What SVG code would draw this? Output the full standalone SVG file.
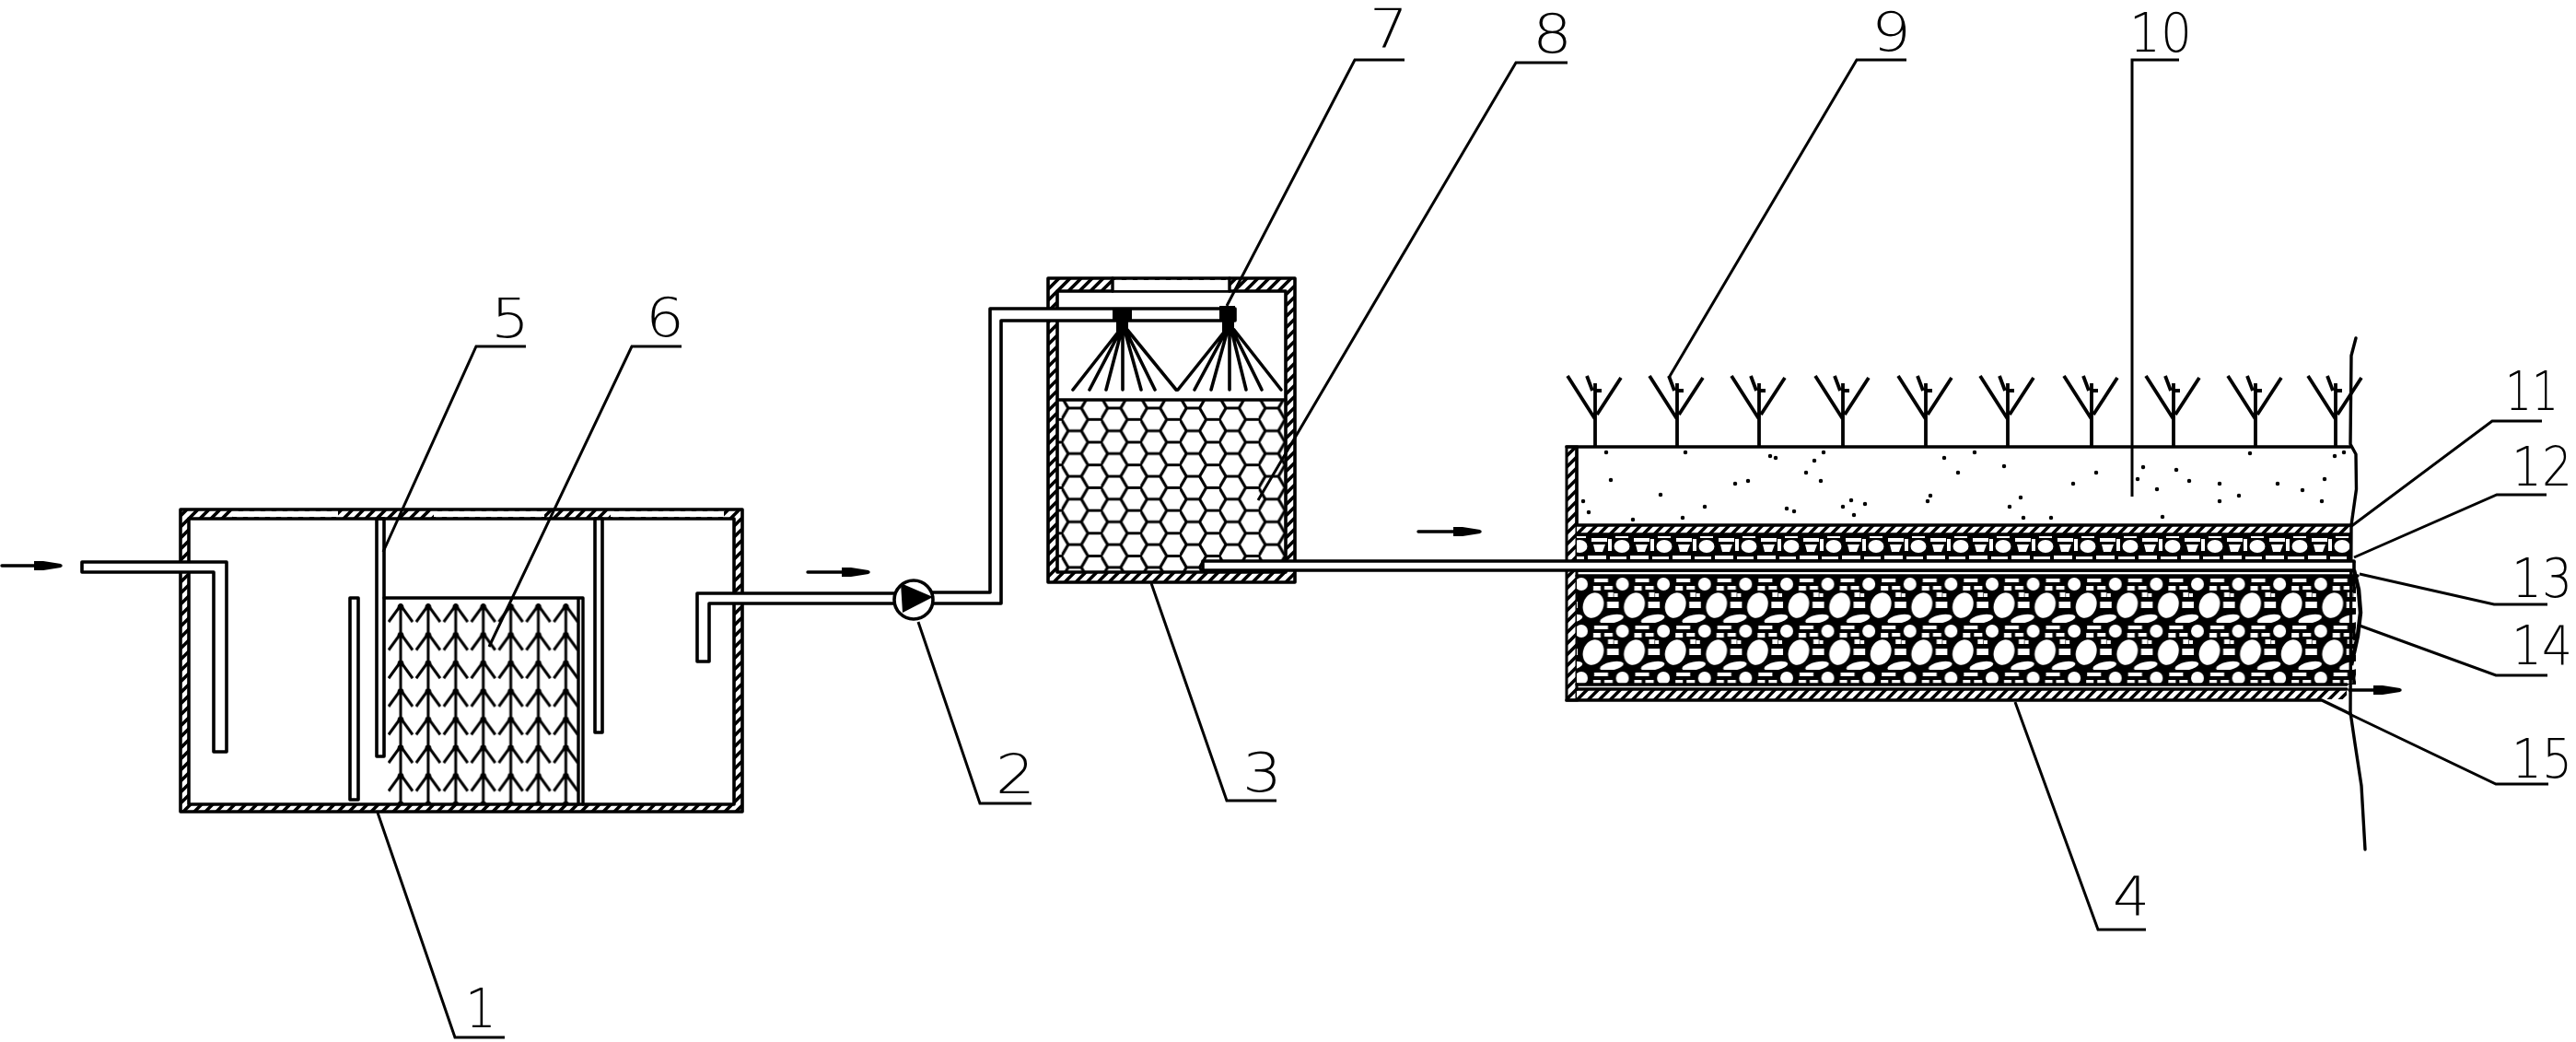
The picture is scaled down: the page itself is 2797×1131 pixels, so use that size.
<svg xmlns="http://www.w3.org/2000/svg" width="2797" height="1131" viewBox="0 0 2797 1131">
<style>
.l{fill:none;stroke:#000;stroke-width:3.4;stroke-linejoin:round;stroke-linecap:round}
.w{fill:#fff;stroke:#000;stroke-width:3.6;stroke-linejoin:round}
.b{fill:#000}
.n{font-family:"DejaVu Sans","Liberation Sans",sans-serif;font-size:59px;font-weight:200;fill:#000}
.lead{fill:none;stroke:#000;stroke-width:3}
.p{fill:none;stroke:#000;stroke-width:3.6;stroke-linecap:round}
</style>
<defs>
<pattern id="hatch" patternUnits="userSpaceOnUse" width="12" height="12"><rect width="12" height="12" fill="#fff"/><path d="M-2 14L14 -2M-2 2L2 -2M10 14L14 10" stroke="#000" stroke-width="3.6" fill="none"/></pattern>
<pattern id="hex" patternUnits="userSpaceOnUse" x="1152.7" y="467.65" width="42.8" height="24.7"><path d="M0 12.35L7.13 0H21.4L28.53 12.35H42.8M28.53 12.35L21.4 24.7H7.13L0 12.35" fill="none" stroke="#000" stroke-width="3.2"/></pattern>
<pattern id="chev" patternUnits="userSpaceOnUse" x="420" y="655" width="29.9" height="30.6"><path d="M15 0V30.6M2 20L15 2L28 20" fill="none" stroke="#000" stroke-width="3"/><circle cx="15" cy="4" r="3.4"/></pattern>
<pattern id="g12" patternUnits="userSpaceOnUse" x="1700" y="580" width="46" height="30"><rect width="46" height="30" fill="#000"/><g fill="#fff"><ellipse cx="15" cy="13" rx="8.5" ry="7"/><path d="M28 4H45V8H28ZM30 11H43L40 19H32ZM2 24H20V27H2ZM24 23H44V27H24ZM0 5H4V18H0ZM8 2H22V4H8Z"/></g></pattern>
<pattern id="g14" patternUnits="userSpaceOnUse" x="1708" y="625" width="44.6" height="51"><rect width="44.6" height="51" fill="#000"/><g fill="#fff"><ellipse cx="22" cy="32" rx="11" ry="14" transform="rotate(20 22 32)"/><ellipse cx="42" cy="47" rx="13" ry="4.5" transform="rotate(-12 42 47)"/><ellipse cx="-2.6" cy="47" rx="13" ry="4.5" transform="rotate(-12 -2.6 47)"/><rect x="37" y="28" width="8" height="7"/><rect x="0" y="28" width="5" height="7"/><circle cx="9" cy="9" r="7"/><path d="M23 3H38V7H23ZM22 11H30V16H22ZM34 11H43V15H34ZM38 18H44V23H38ZM0 19H4V23H0Z"/></g></pattern>
<g id="plant"><path d="M0 2V-66M0 -27L-30 -74M2 -32L28 -72M-9 -74L-3 -58M0 -58H7" fill="none" stroke="#000" stroke-width="3.8"/></g>
<marker id="ah" markerUnits="userSpaceOnUse" markerWidth="30" markerHeight="16" viewBox="0 0 30 16" refX="29" refY="8" orient="auto"><path d="M0 3H10L29 6V10L10 13H0Z"/></marker>
</defs>
<rect width="2797" height="1131" fill="#fff"/>

<g id="node-1-tank">
<rect class="w" x="196" y="553" width="610" height="328" style="fill:url(#hatch)"/>
<rect class="w" x="205" y="563" width="592" height="310"/>
<path d="M253 555H367V561H253ZM471 555H591V561H471ZM663 555H786V561H663Z" fill="#fff"/>
<rect class="w" x="380" y="649" width="9" height="219"/>
<rect class="w" x="646" y="563" width="8" height="232"/>
</g>
<g id="node-6-media">
<rect x="421" y="655" width="207" height="218" fill="url(#chev)"/>
<path class="l" d="M417 649H633V873M628 649V873"/>
</g>
<g id="node-5-baffle"><rect class="w" x="409" y="563" width="8" height="258" style="fill:none"/></g>

<g id="node-3-tank">
<rect class="w" x="1138" y="302" width="268" height="330" style="fill:url(#hatch)"/>
<rect class="w" x="1148" y="316" width="248" height="305"/>
<rect x="1208" y="304" width="126" height="11" fill="#fff"/>
<path class="l" d="M1208 302V316M1335 302V316"/>
</g>
<g id="node-8-media">
<rect x="1149" y="435" width="246" height="185" fill="url(#hex)"/>
<path class="l" d="M1148 434H1396"/>
</g>

<g id="node-4-wetland">
<rect x="1701" y="485" width="11" height="275" fill="url(#hatch)" stroke="#000" stroke-width="3"/>
<rect x="1712" y="570" width="840" height="10" fill="url(#hatch)"/>
<rect x="1712" y="580" width="840" height="30" fill="url(#g12)"/>
<rect x="1712" y="625" width="846" height="118" fill="url(#g14)"/>
<rect x="1712" y="748" width="836" height="11" fill="url(#hatch)"/>
<path class="l" d="M1701 485H2552M1712 485V570M1712 570H2552M1712 580H2552M1712 610H2556M1712 619H2556M1712 625H2560M1712 743H2548M1712 748H2548M1701 760H2521L2552 775"/>
</g>
<g id="node-9-plants">
<use href="#plant" x="1732" y="482"/><use href="#plant" x="1821" y="482"/><use href="#plant" x="1910" y="482"/><use href="#plant" x="2001" y="482"/><use href="#plant" x="2091" y="482"/><use href="#plant" x="2180" y="482"/><use href="#plant" x="2271" y="482"/><use href="#plant" x="2360" y="482"/><use href="#plant" x="2449" y="482"/><use href="#plant" x="2536" y="482"/>
</g>
<g id="node-10-soil">
<path fill="none" stroke="#000" stroke-width="4.5" stroke-linecap="round" d="M1744 491h0M1830 491h0M1922 495h0M1928 497h0M1980 491h0M1970 500h0M1961 513h0M1749 521h0M1898 522h0M1884 525h0M1977 522h0M1803 537h0M1719 544h0M1725 556h0M1851 550h0M1827 562h0M1773 564h0M1940 552h0M1948 555h0M2010 543h0M2001 550h0M2025 547h0M2013 559h0M2111 497h0M2144 491h0M2176 506h0M2126 513h0M2096 538h0M2093 544h0M2194 540h0M2182 550h0M2197 562h0M2227 562h0M2276 513h0M2251 525h0M2327 507h0M2363 510h0M2321 520h0M2377 522h0M2342 531h0M2410 525h0M2473 525h0M2500 532h0M2524 520h0M2431 538h0M2410 544h0M2521 544h0M2348 561h0M2443 492h0M2535 495h0M2545 491h0"/>
<path class="l" d="M2558 367L2553 386L2552 482L2558 493L2558.5 531L2553 570L2552 773L2557 807L2564 853L2568 922"/>
<path fill="none" stroke="#000" stroke-width="4.5" d="M2556 619L2561 640L2563 665L2560 690L2553 722"/>
</g>

<g id="connectors">
<path class="w" d="M89 610H246V816H232V621H89Z"/>
<path class="w" d="M972 644H757V718H770V655H972Z"/>
<path class="w" d="M1012 643H1075V335H1341V348H1087V655H1012Z"/>
<path class="w" d="M1306 609H2556V619H1306Z"/>
<g>
<path class="lead" d="M410 882L494 1126H548"/>
<path class="lead" d="M997 675L1064 872H1120"/>
<path class="lead" d="M1250 633L1332 869H1386"/>
<path class="lead" d="M2188 762L2278 1009H2330"/>
<path class="lead" d="M416 599L517 376H571"/>
<path class="lead" d="M531 702L686 376H740"/>
<path class="lead" d="M1332 332L1471 65H1525"/>
<path class="lead" d="M1366 543L1646 68H1702"/>
<path class="lead" d="M1812 410L2016 65H2070"/>
<path class="lead" d="M2315 539V65H2366"/>
<path class="lead" d="M2552 572L2706 457H2760"/>
<path class="lead" d="M2556 605L2711 537H2765"/>
<path class="lead" d="M2562 623L2708 656H2766"/>
<path class="lead" d="M2562 679L2710 733H2766"/>
<path class="lead" d="M2551 775L2710 851H2767"/>
</g>
<path class="l" d="M2 614H66" marker-end="url(#ah)"/>
<path class="l" d="M877 621H943" marker-end="url(#ah)"/>
<path class="l" d="M1540 577H1607" marker-end="url(#ah)"/>
<path class="l" d="M2551 749H2606" marker-end="url(#ah)"/>
</g>

<g id="node-2-pump">
<circle class="w" cx="992" cy="651" r="21"/>
<path class="b" d="M978 633L1013 648L980 665Z"/>
</g>
<g id="node-7-nozzles">
<path class="b" d="M1208 335H1229V348H1225V362H1212V348H1208Z"/>
<path class="b" d="M1324 332H1341V348H1340V362H1327V348H1324Z"/>
<path class="p" d="M1216 358L1165 423M1217 358L1183 423M1218 358L1201 423M1219 358V423M1221 358L1239 423M1222 358L1254 423M1224 358L1277 423"/>
<path class="p" d="M1331 358L1279 423M1332 358L1297 423M1333 358L1315 423M1335 358V423M1337 358L1353 423M1338 358L1370 423M1340 358L1391 423"/>
</g>

<g id="labels">
<text class="n" x="505" y="1115" textLength="34" lengthAdjust="spacingAndGlyphs">1</text>
<text class="n" x="1081" y="861" textLength="43" lengthAdjust="spacingAndGlyphs">2</text>
<text class="n" x="1349" y="859" textLength="43" lengthAdjust="spacingAndGlyphs">3</text>
<text class="n" x="2294" y="993" textLength="40" lengthAdjust="spacingAndGlyphs">4</text>
<text class="n" x="533" y="366" textLength="42" lengthAdjust="spacingAndGlyphs">5</text>
<text class="n" x="701" y="365" textLength="42" lengthAdjust="spacingAndGlyphs">6</text>
<text class="n" x="1487" y="52" textLength="42" lengthAdjust="spacingAndGlyphs">7</text>
<text class="n" x="1664" y="57" textLength="43" lengthAdjust="spacingAndGlyphs">8</text>
<text class="n" x="2032" y="55" textLength="43" lengthAdjust="spacingAndGlyphs">9</text>
<text class="n" x="2312" y="56" textLength="68" lengthAdjust="spacingAndGlyphs">10</text>
<text class="n" x="2720" y="445" textLength="58" lengthAdjust="spacingAndGlyphs">11</text>
<text class="n" x="2727" y="527" textLength="66" lengthAdjust="spacingAndGlyphs">12</text>
<text class="n" x="2727" y="648" textLength="66" lengthAdjust="spacingAndGlyphs">13</text>
<text class="n" x="2727" y="721" textLength="66" lengthAdjust="spacingAndGlyphs">14</text>
<text class="n" x="2727" y="844" textLength="66" lengthAdjust="spacingAndGlyphs">15</text>
</g>
</svg>
